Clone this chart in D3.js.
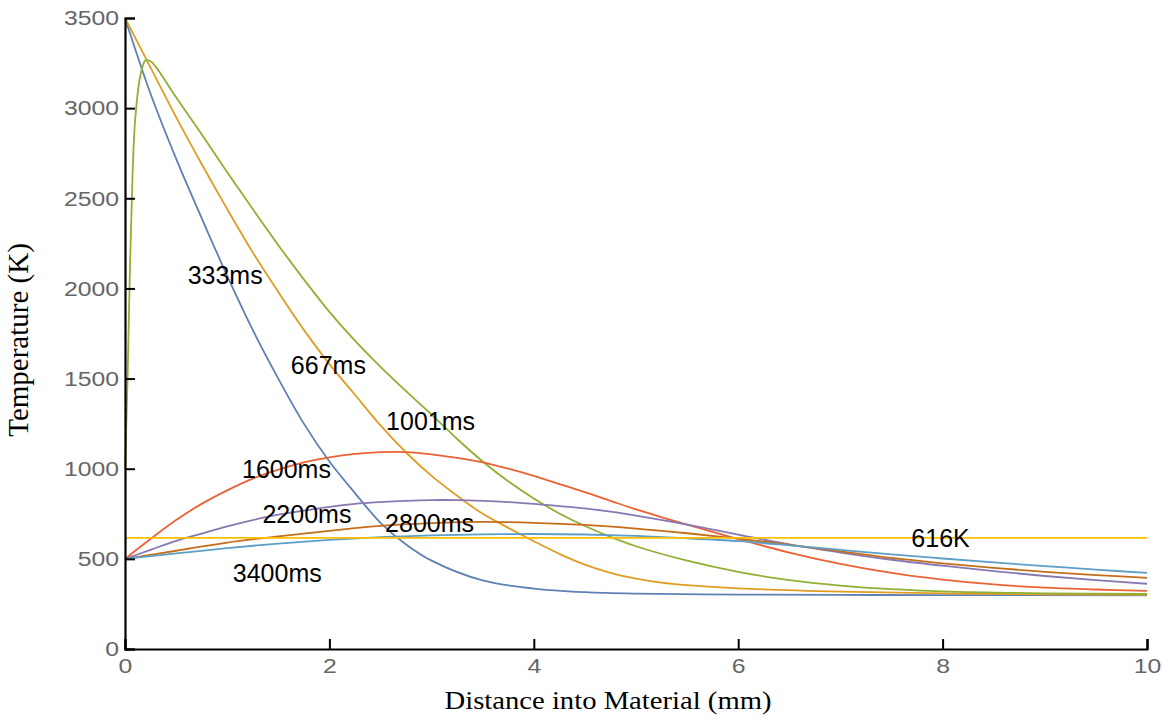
<!DOCTYPE html>
<html><head><meta charset="utf-8">
<script src="https://cdn.jsdelivr.net/npm/d3@7"></script>
<style>body{margin:0;background:#fff}</style>
</head><body>
<svg id="chart" width="1165" height="719"></svg>
<script>
// ---- data ----
const xTicksMajor = [0, 2, 4, 6, 8, 10];
const yTicksMajor = [0, 500, 1000, 1500, 2000, 2500, 3000, 3500];

const xs333 = [0,0.25,0.5,0.75,1,1.25,1.5,1.75,2,2.25,2.5,2.75,3,3.5,4,4.5,5,6,7,8,10];
const t333  = [3500,3080,2720,2390,2070,1770,1500,1250,1040,865,700,580,490,380,335,315,307,302,300,299,298];

const xs667 = [0,0.25,0.5,0.75,1,1.25,1.5,1.75,2,2.25,2.5,2.75,3,3.25,3.5,3.75,4,4.25,4.5,4.75,5,5.25,5.5,6,7,8,9,10];
const t667  = [3500,3225,2950,2690,2440,2200,1980,1770,1580,1410,1240,1090,960,850,750,672,598,528,468,422,390,368,354,336,318,308,303,301];

const xs1001 = [0,0.025,0.05,0.075,0.1,0.15,0.2,0.25,0.3,0.5,0.75,1,1.25,1.5,1.75,2,2.25,2.5,2.75,3,3.25,3.5,3.75,4,4.25,4.5,4.75,5,5.5,6,6.5,7,7.5,8,9,10];
const t1001  = [1000,1500,2150,2650,2940,3180,3265,3260,3230,3060,2855,2645,2440,2240,2050,1870,1710,1565,1430,1300,1165,1040,930,835,752,682,622,570,490,428,382,352,332,320,309,305];

const xsA = [0,0.25,0.5,0.75,1,1.25,1.5,1.75,2,2.25,2.5,2.75,3,3.25,3.5,3.75,4,4.25,4.5,4.75,5,5.5,6,6.5,7,7.5,8,8.5,9,9.5,10];
const t1600 = [500,610,715,805,880,945,995,1035,1063,1082,1092,1092,1080,1060,1035,1000,960,915,870,822,775,690,610,535,472,422,385,358,340,330,322];
const t2200 = [500,550,600,640,680,715,745,768,788,805,815,822,826,826,822,815,805,793,780,762,740,690,635,580,535,495,462,432,405,382,362];

const xsB = [0,0.5,1,1.5,2,2.5,3,3.5,4,4.5,5,5.5,6,6.5,7,7.5,8,8.5,9,9.5,10];
const t2800 = [500,545,590,625,655,683,698,705,700,688,668,642,612,578,542,505,475,450,428,410,395];
const t3400 = [500,530,560,585,605,620,630,636,638,635,627,614,598,575,550,525,502,480,460,440,422];

const xsLine = [0, 10];
const tLine = [616, 616];

const seriesNames = ["333ms","667ms","1001ms","1600ms","2200ms","2800ms","3400ms","616K"];
const seriesColors = ["#5E81B5","#E19C24","#8FB032","#EB6235","#8778B3","#C56E1A","#5D9EC7","#FFBF00"];
const labelX = [0.98, 1.99, 2.99, 1.58, 1.78, 2.98, 1.49, 7.98];
const labelT = [2072, 1578, 1267, 1000, 750, 700, 422, 616];

const series = [
  [xs333, t333], [xs667, t667], [xs1001, t1001], [xsA, t1600],
  [xsA, t2200], [xsB, t2800], [xsB, t3400], [xsLine, tLine]
];

// ---- chart ----
const svg = d3.select("#chart");
const x = d3.scaleLinear().domain([0, 10]).range([125, 1147]);
const y = d3.scaleLinear().domain([0, 3500]).range([649, 18]);

const line = d3.line().x(d => x(d[0])).y(d => y(d[1])).curve(d3.curveCatmullRom.alpha(0.5));

const plot = svg.append("g");
series.forEach((s, i) => {
  const pts = s[0].map((v, j) => [v, s[1][j]]);
  plot.append("path").datum(pts)
    .attr("d", line)
    .attr("fill", "none")
    .attr("stroke", seriesColors[i])
    .attr("stroke-width", 1.8);
});

// axes
const tickFont = "'Liberation Sans', Arial, sans-serif";
const xMinor = d3.range(0, 10.01, 0.5).filter(v => Math.abs(v % 2) > 1e-6);
const yMinor = d3.range(0, 3500.1, 100).filter(v => v % 500 !== 0);

const gx = svg.append("g").attr("transform", "translate(0,649)");
gx.call(d3.axisBottom(x).tickValues(xMinor).tickSize(-5).tickFormat(""));
gx.call(d3.axisBottom(x).tickValues(xTicksMajor).tickSize(-10).tickPadding(8).tickFormat(d3.format("d")));

const gy = svg.append("g").attr("transform", "translate(125,0)");
gy.call(d3.axisLeft(y).tickValues(yMinor).tickSize(-5).tickFormat(""));
gy.call(d3.axisLeft(y).tickValues(yTicksMajor).tickSize(-10).tickPadding(5).tickFormat(d3.format("d")));

[gx, gy].forEach(g => {
  g.selectAll(".domain").attr("stroke", "#000").attr("stroke-width", 2.2);
  g.selectAll(".tick line").attr("stroke", "#000").attr("stroke-width", 2);
  g.selectAll("text").attr("fill", "#666").attr("font-size", 21).attr("font-family", tickFont)
    .attr("transform", "scale(1.18,1)");
});
gx.selectAll(".tick text").attr("dy", "0.78em");

// curve labels
svg.append("g").selectAll("text").data(seriesNames).join("text")
  .attr("x", (d, i) => x(labelX[i]))
  .attr("y", (d, i) => y(labelT[i]))
  .attr("text-anchor", "middle")
  .attr("dominant-baseline", "central")
  .attr("font-family", tickFont)
  .attr("font-size", 25)
  .attr("fill", "#000")
  .text(d => d);

// axis titles
svg.append("text")
  .attr("x", 608).attr("y", 709)
  .attr("text-anchor", "middle")
  .attr("font-family", "'Liberation Serif', 'Times New Roman', serif")
  .attr("font-size", 25)
  .attr("textLength", 327)
  .attr("lengthAdjust", "spacingAndGlyphs")
  .text("Distance into Material (mm)");

svg.append("text")
  .attr("transform", "translate(28,340) rotate(-90)")
  .attr("text-anchor", "middle")
  .attr("font-family", "'Liberation Serif', 'Times New Roman', serif")
  .attr("font-size", 29)
  .text("Temperature (K)");
</script>
</body></html>
